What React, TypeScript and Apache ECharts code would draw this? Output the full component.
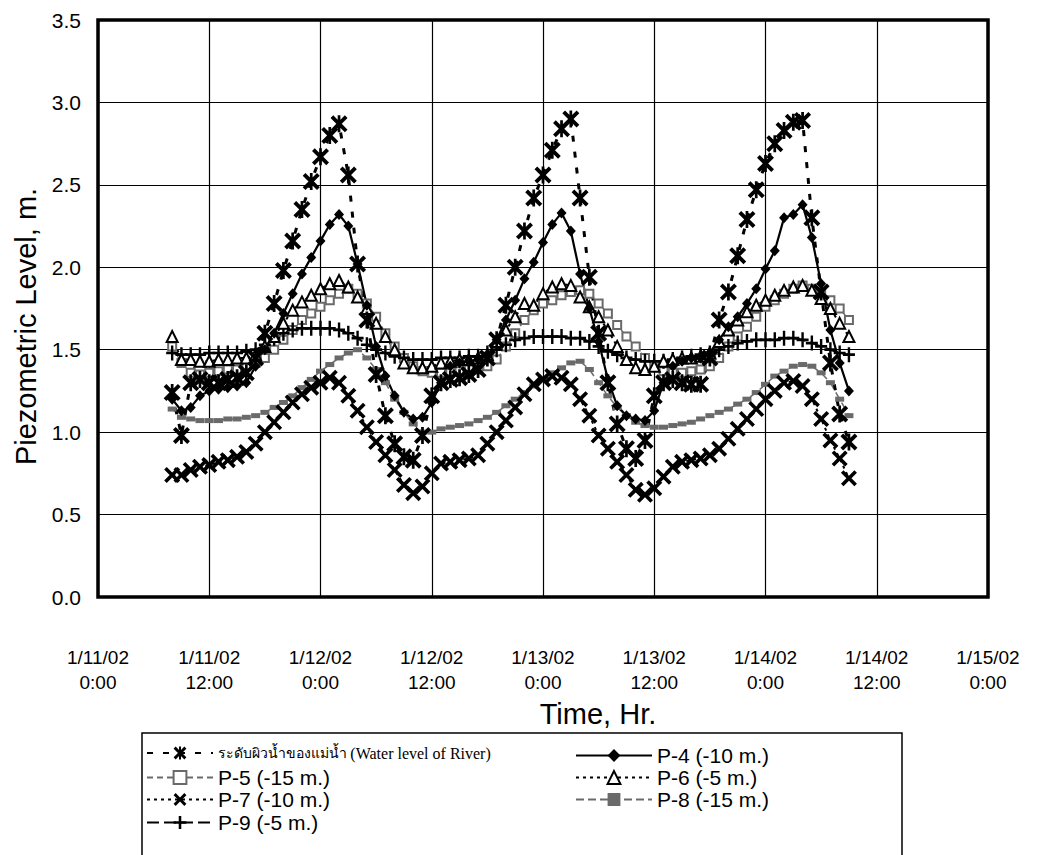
import React, { useEffect, useRef } from "react";
import * as echarts from "echarts";

// Time in hours since 1/11/02 0:00
const hours = [8, 9, 10, 11, 12, 13, 14, 15, 16, 17, 18, 19, 20, 21, 22, 23, 24, 25, 26, 27, 28, 29, 30, 31, 32, 33, 34, 35, 36, 37, 38, 39, 40, 41, 42, 43, 44, 45, 46, 47, 48, 49, 50, 51, 52, 53, 54, 55, 56, 57, 58, 59, 60, 61, 62, 63, 64, 65, 66, 67, 68, 69, 70, 71, 72, 73, 74, 75, 76, 77, 78, 79, 80, 81];

const xTickLabels = [
  "1/11/02\n0:00", "1/11/02\n12:00", "1/12/02\n0:00", "1/12/02\n12:00", "1/13/02\n0:00",
  "1/13/02\n12:00", "1/14/02\n0:00", "1/14/02\n12:00", "1/15/02\n0:00",
];

const riverLevel = [1.24, 0.98, 1.3, 1.32, 1.3, 1.3, 1.32, 1.33, 1.36, 1.45,
  1.6, 1.78, 1.98, 2.16, 2.35, 2.52, 2.67, 2.8, 2.87, 2.56,
  2.02, 1.68, 1.35, 1.1, 0.93, 0.85, 0.83, 0.98, 1.22, 1.3,
  1.32, 1.33, 1.35, 1.38, 1.45, 1.56, 1.77, 2.0, 2.22, 2.42,
  2.56, 2.71, 2.84, 2.9, 2.42, 1.94, 1.6, 1.3, 1.05, 0.9,
  0.84, 0.95, 1.22, 1.3, 1.32, 1.3, 1.29, 1.29, 1.45, 1.68,
  1.85, 2.07, 2.29, 2.47, 2.63, 2.75, 2.83, 2.88, 2.89, 2.3,
  1.85, 1.42, 1.11, 0.94];

const p4 = [1.2, 1.13, 1.15, 1.22, 1.25, 1.26, 1.27, 1.28, 1.3, 1.4,
  1.5, 1.6, 1.72, 1.84, 1.96, 2.06, 2.16, 2.26, 2.32, 2.25,
  2.02, 1.77, 1.52, 1.34, 1.22, 1.12, 1.08, 1.09, 1.18, 1.3,
  1.4, 1.42, 1.43, 1.44, 1.46, 1.56, 1.68, 1.8, 1.93, 2.03,
  2.15, 2.26, 2.33, 2.22, 1.96, 1.75, 1.55, 1.32, 1.16, 1.1,
  1.08, 1.07, 1.13, 1.3, 1.4, 1.43, 1.45, 1.45, 1.48, 1.56,
  1.64, 1.7, 1.78, 1.87, 1.99, 2.1, 2.3, 2.32, 2.38, 2.18,
  1.9, 1.62, 1.42, 1.25];

const p5 = [1.52, 1.42, 1.36, 1.35, 1.36, 1.37, 1.38, 1.38, 1.4, 1.42,
  1.45, 1.5, 1.56, 1.62, 1.68, 1.72, 1.76, 1.8, 1.84, 1.87,
  1.84, 1.78, 1.7, 1.6, 1.52, 1.45, 1.4, 1.37, 1.36, 1.36,
  1.37, 1.37, 1.38, 1.38, 1.4, 1.44, 1.52, 1.6, 1.68, 1.74,
  1.78, 1.8, 1.83, 1.85, 1.86, 1.84, 1.78, 1.72, 1.65, 1.58,
  1.52, 1.45, 1.4, 1.37, 1.36, 1.36, 1.37, 1.38, 1.4, 1.45,
  1.52, 1.58, 1.64, 1.7, 1.76, 1.8, 1.84, 1.87, 1.89, 1.87,
  1.84, 1.8, 1.75, 1.68];

const p6 = [1.58, 1.44, 1.44, 1.43, 1.43, 1.44, 1.44, 1.45, 1.45, 1.47,
  1.52, 1.58, 1.66, 1.74, 1.79, 1.83, 1.87, 1.9, 1.92, 1.88,
  1.82, 1.75, 1.66, 1.58, 1.5, 1.42, 1.39, 1.39, 1.4, 1.42,
  1.43, 1.44, 1.44, 1.45, 1.47, 1.55, 1.62, 1.7, 1.78, 1.77,
  1.84, 1.88, 1.9, 1.89, 1.82, 1.76, 1.7, 1.62, 1.52, 1.44,
  1.39, 1.38, 1.4, 1.43, 1.44, 1.45, 1.45, 1.46, 1.48, 1.55,
  1.62, 1.68, 1.73, 1.77, 1.8, 1.83, 1.86, 1.88, 1.89, 1.86,
  1.81, 1.75, 1.66, 1.58];

const p7 = [0.74, 0.74, 0.77, 0.79, 0.8, 0.82, 0.83, 0.85, 0.88, 0.93,
  1.0, 1.06, 1.12, 1.18, 1.23, 1.27, 1.3, 1.33, 1.3, 1.22,
  1.13, 1.03, 0.94, 0.86, 0.77, 0.68, 0.63, 0.67, 0.75, 0.81,
  0.82, 0.83, 0.84, 0.86, 0.93, 1.0, 1.07, 1.15, 1.23, 1.29,
  1.32, 1.34, 1.33, 1.29, 1.2, 1.1, 0.98, 0.9, 0.82, 0.74,
  0.65, 0.62, 0.66, 0.73, 0.79, 0.82, 0.83, 0.84, 0.86, 0.9,
  0.96, 1.02, 1.08, 1.14, 1.2, 1.25, 1.3, 1.31, 1.28, 1.2,
  1.08, 0.95, 0.84, 0.72];

const p8 = [1.14, 1.09, 1.08, 1.07, 1.07, 1.07, 1.08, 1.08, 1.09, 1.1,
  1.12, 1.15, 1.18, 1.22, 1.27, 1.32, 1.37, 1.41, 1.45, 1.48,
  1.5, 1.45, 1.38, 1.3, 1.2, 1.12, 1.05, 1.0, 1.0, 1.02,
  1.03, 1.04, 1.05, 1.07, 1.09, 1.12, 1.16, 1.2, 1.24, 1.28,
  1.32, 1.36, 1.39, 1.42, 1.43, 1.38, 1.3, 1.22, 1.15, 1.1,
  1.06, 1.04, 1.03, 1.03, 1.04, 1.05, 1.06, 1.08, 1.1, 1.12,
  1.14, 1.17, 1.2, 1.24, 1.29, 1.34, 1.37, 1.4, 1.41, 1.4,
  1.36, 1.3, 1.2, 1.1];

const p9 = [1.48, 1.47, 1.47, 1.47, 1.48, 1.48, 1.48, 1.48, 1.49, 1.5,
  1.53, 1.57, 1.6, 1.62, 1.63, 1.63, 1.63, 1.63, 1.62, 1.6,
  1.57, 1.53, 1.5, 1.48, 1.46, 1.45, 1.44, 1.44, 1.44, 1.45,
  1.45, 1.45, 1.46, 1.46, 1.48, 1.5, 1.53, 1.56, 1.57, 1.58,
  1.58, 1.58, 1.58, 1.57, 1.57, 1.55, 1.52, 1.49, 1.47, 1.45,
  1.44, 1.43, 1.43, 1.43, 1.44, 1.45, 1.46, 1.47, 1.48, 1.5,
  1.52, 1.54, 1.55, 1.56, 1.56, 1.56, 1.57, 1.57, 1.56, 1.54,
  1.52, 1.5, 1.48, 1.47];

const RIVER_TH = "ระดับผิวน้ำของแม่น้ำ";
const RIVER_EN = "(Water level of River)";
const NAME_RIVER = RIVER_TH + " " + RIVER_EN;
const NAME_P4 = "P-4 (-10 m.)";
const NAME_P5 = "P-5 (-15 m.)";
const NAME_P6 = "P-6 (-5 m.)";
const NAME_P7 = "P-7 (-10 m.)";
const NAME_P8 = "P-8 (-15 m.)";
const NAME_P9 = "P-9 (-5 m.)";

const X_PATH = "path://M1.6,0 L5,3.4 L8.4,0 L10,1.6 L6.6,5 L10,8.4 L8.4,10 L5,6.6 L1.6,10 L0,8.4 L3.4,5 L0,1.6 Z";
const STAR_PATH = X_PATH + " M4.2,0 L5.8,0 L5.8,10 L4.2,10 Z";
const PLUS_PATH = "path://M4,0 L6,0 L6,4.1 L10,4.1 L10,5.9 L6,5.9 L6,10 L4,10 L4,5.9 L0,5.9 L0,4.1 L4,4.1 Z";

const FONT = "'Liberation Sans', Arial, sans-serif";

function pairs(vals: number[]) {
  return hours.map((h, i) => [h, vals[i]]);
}

export default function App() {
  const ref = useRef<HTMLDivElement>(null);
  useEffect(() => {
    if (!ref.current) return;
    const chart = echarts.init(ref.current, undefined, { renderer: "svg" });
    const black = "#000";
    const gray = "#6a6a6a";
    const legendText = { fontSize: 21, fontFamily: FONT, color: black };
    const leftCol = 146;
    const rightCol = 575;
    const rowY = [745, 767, 789, 812];
    const mkLegend = (name: string, left: number, top: number, w: number, extra: any = {}) => ({
      data: [name], left, top, itemWidth: w, itemHeight: 16, itemGap: 0, padding: 0,
      textStyle: legendText, ...extra,
    });
    const option: any = {
      animation: false,
      backgroundColor: "#fff",
      textStyle: { fontFamily: FONT, color: black },
      grid: { left: 98, right: 64, top: 20, bottom: 258, show: true, borderColor: black, borderWidth: 3.5, backgroundColor: "#fff" },
      xAxis: {
        type: "value", min: 0, max: 96, interval: 12,
        axisLine: { show: false }, axisTick: { show: false },
        splitLine: { show: true, lineStyle: { color: black, width: 1.2 } },
        axisLabel: {
          color: black, fontSize: 19, fontFamily: FONT, margin: 48, lineHeight: 25,
          formatter: (v: number) => xTickLabels[Math.round(v / 12)],
        },
        name: "Time, Hr.", nameLocation: "middle", nameGap: 100,
        nameTextStyle: { fontSize: 29, fontFamily: FONT, color: black, padding: [0, 0, 0, 110] },
      },
      yAxis: {
        type: "value", min: 0, max: 3.5, interval: 0.5,
        axisLine: { show: false }, axisTick: { show: false },
        splitLine: { show: true, lineStyle: { color: black, width: 1.2 } },
        axisLabel: { color: black, fontSize: 21, fontFamily: FONT, margin: 17, formatter: (v: number) => v.toFixed(1) },
        name: "Piezometric Level, m.", nameLocation: "middle", nameGap: 56,
        nameTextStyle: { fontSize: 29, fontFamily: FONT, color: black, padding: [0, 36, 0, 0] },
      },
      legend: [
        mkLegend(NAME_RIVER, leftCol, rowY[0], 66, {
          formatter: () => "{th|" + RIVER_TH + "} {en|" + RIVER_EN + "}",
          textStyle: {
            color: black,
            rich: {
              th: { fontSize: 14, fontFamily: "'Liberation Serif', serif", color: black },
              en: { fontSize: 16, fontFamily: "'Liberation Serif', serif", color: black },
            },
          },
        }),
        mkLegend(NAME_P5, leftCol, rowY[1], 66),
        mkLegend(NAME_P7, leftCol, rowY[2], 66),
        mkLegend(NAME_P9, leftCol, rowY[3], 66),
        mkLegend(NAME_P4, rightCol, rowY[0], 76),
        mkLegend(NAME_P6, rightCol, rowY[1], 76),
        mkLegend(NAME_P8, rightCol, rowY[2], 76),
      ],
      graphic: [
        { type: "rect", shape: { x: 142, y: 733, width: 760, height: 140 }, style: { fill: "none", stroke: black, lineWidth: 1.5 }, silent: true },
      ],
      series: [
        {
          type: "line", name: NAME_P8, data: pairs(p8), symbol: "rect", symbolSize: [9, 5],
          itemStyle: { color: gray }, lineStyle: { color: gray, width: 1.5, type: [8, 4] },
        },
        {
          type: "line", name: NAME_P5, data: pairs(p5), symbol: "emptyRect", symbolSize: 8,
          itemStyle: { color: gray, borderWidth: 1.5 }, lineStyle: { color: gray, width: 1.5, type: [6, 4] },
        },
        {
          type: "line", name: NAME_P9, data: pairs(p9), symbol: PLUS_PATH, symbolSize: [12, 15],
          itemStyle: { color: black }, lineStyle: { color: black, width: 2, type: [12, 5] },
        },
        {
          type: "line", name: NAME_P6, data: pairs(p6), symbol: "emptyTriangle", symbolSize: 11,
          itemStyle: { color: black, borderWidth: 2.2 }, lineStyle: { color: black, width: 2, type: [3, 4] },
        },
        {
          type: "line", name: NAME_P7, data: pairs(p7), symbol: X_PATH, symbolSize: 16,
          itemStyle: { color: black }, lineStyle: { color: black, width: 2, type: [3, 4] },
        },
        {
          type: "line", name: NAME_P4, data: pairs(p4), symbol: "diamond", symbolSize: [10, 11],
          itemStyle: { color: black }, lineStyle: { color: black, width: 2.2, type: "solid" },
        },
        {
          type: "line", name: NAME_RIVER, data: pairs(riverLevel), symbol: STAR_PATH, symbolSize: 17,
          itemStyle: { color: black }, lineStyle: { color: black, width: 3, type: [6, 10] },
        },
      ],
    };
    chart.setOption(option);
    return () => chart.dispose();
  }, []);
  return <div ref={ref} style={{ position: "fixed", left: 0, top: 0, width: 1052, height: 855, background: "#fff" }} />;
}
